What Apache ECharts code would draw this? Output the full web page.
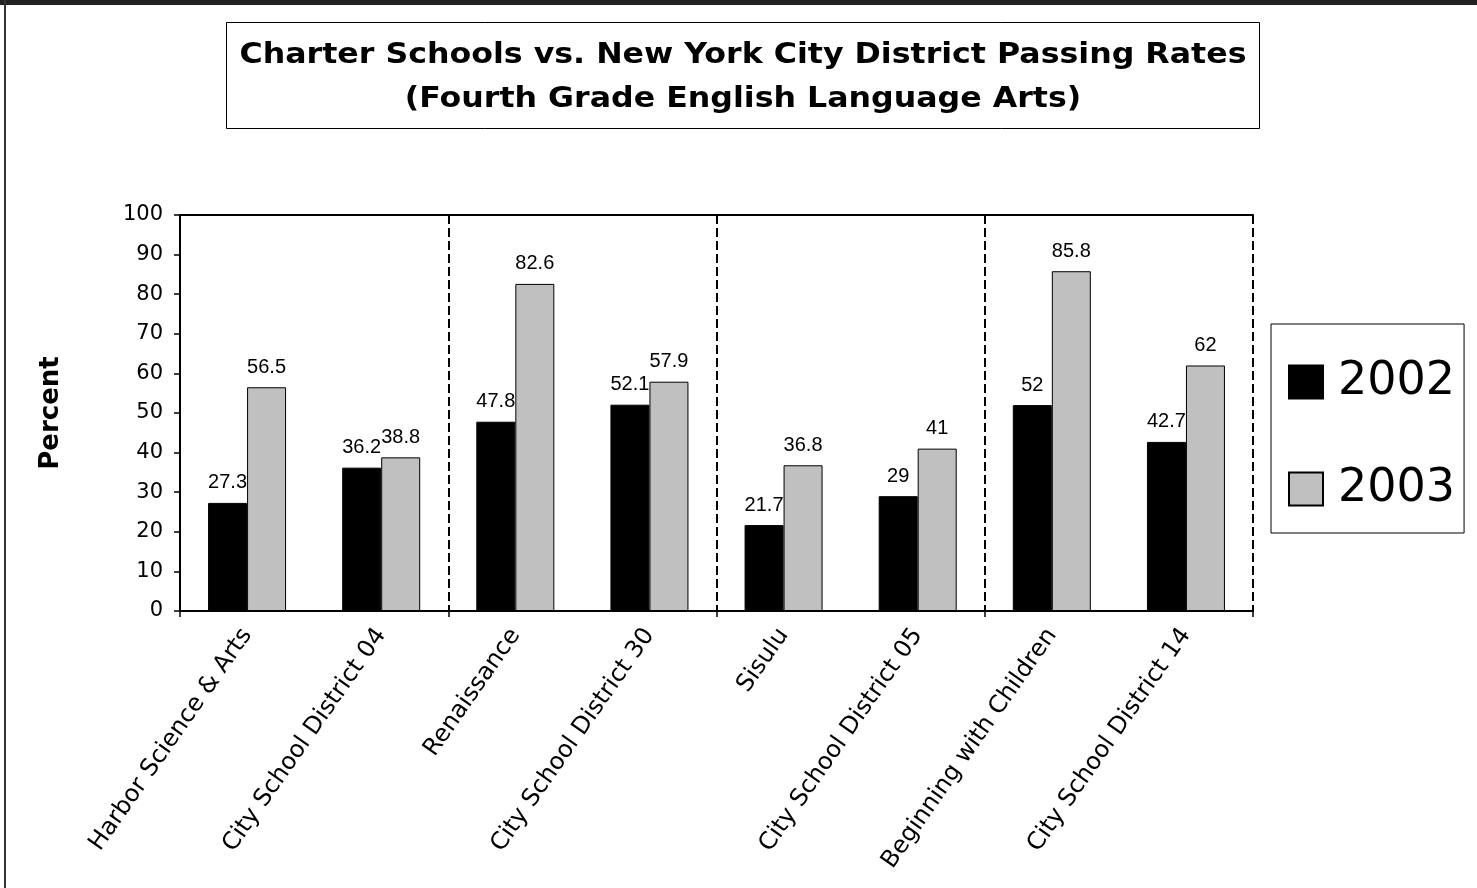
<!DOCTYPE html>
<html>
<head>
<meta charset="utf-8">
<script src="https://cdn.jsdelivr.net/npm/echarts@6/dist/echarts.min.js"></script>
<style>
html,body{margin:0;padding:0;background:#fff;}
#chart{width:1477px;height:888px;}
</style>
</head>
<body>
<div id="chart"></div>
<script>
const categories = ['Harbor Science & Arts','City School District 04','Renaissance','City School District 30','Sisulu','City School District 05','Beginning with Children','City School District 14'];
const values2002 = [27.3, 36.2, 47.8, 52.1, 21.7, 29, 52, 42.7];
const values2003 = [56.5, 38.8, 82.6, 57.9, 36.8, 41, 85.8, 62];
const seriesNames = ['2002', '2003'];
const titleLines = ['Charter Schools vs. New York City District Passing Rates', '(Fourth Grade English Language Arts)'];
const yAxisName = 'Percent';
const groupCount = 4;

const chart = echarts.init(document.getElementById('chart'), null, {renderer: 'canvas'});
const labelStyle = {show: true, position: 'top', distance: 10, color: '#000', fontFamily: 'Liberation Sans', fontSize: 20};
chart.setOption({
  backgroundColor: '#fff',
  animation: false,
  graphic: [
    {type: 'rect', shape: {x: 0, y: 0, width: 1477, height: 5}, style: {fill: '#222'}, silent: true},
    {type: 'rect', shape: {x: 4, y: 0, width: 2, height: 888}, style: {fill: '#333'}, silent: true},
    {type: 'rect', shape: {x: 226.5, y: 22.5, width: 1033, height: 106}, style: {fill: '#fff', stroke: '#000', lineWidth: 1}, silent: true},
    {type: 'text', x: 743, y: 78, scaleX: 1.13, style: {text: titleLines.join('\n'), textAlign: 'center', textVerticalAlign: 'middle', font: 'bold 28px "DejaVu Sans"', fill: '#000', lineHeight: 44}, silent: true}
  ],
  legend: {
    data: seriesNames, orient: 'vertical', left: 1271, top: 324,
    padding: [35, 9, 21, 17], itemWidth: 34, itemHeight: 33, itemGap: 61,
    borderColor: '#000', borderWidth: 1, icon: 'rect',
    textStyle: {fontSize: 46, fontFamily: 'DejaVu Sans', color: '#000', lineHeight: 46, padding: [0, 0, 0, 10]}
  },
  grid: {left: 180, top: 215, width: 1073, height: 396, containLabel: false},
  xAxis: [
    {
      type: 'category', data: categories, position: 'bottom',
      axisLine: {show: true, lineStyle: {color: '#000', width: 2}},
      axisTick: {show: false},
      axisLabel: {interval: 0, rotate: 55, margin: 20, color: '#000', fontFamily: 'DejaVu Sans', fontSize: 24},
      splitLine: {show: false}
    },
    {
      type: 'value', position: 'top', min: 0, max: groupCount, interval: 1,
      axisLine: {show: true, lineStyle: {color: '#000', width: 2}},
      axisTick: {show: false}, axisLabel: {show: false},
      splitLine: {show: true, lineStyle: {color: '#000', width: 2, type: [9, 4]}}
    },
    {
      type: 'value', position: 'bottom', min: 0, max: groupCount, interval: 1,
      axisLine: {show: true, lineStyle: {color: '#000', width: 2}},
      axisTick: {show: true, length: 6, lineStyle: {color: '#000', width: 1.5}},
      axisLabel: {show: false}, splitLine: {show: false}
    }
  ],
  yAxis: {
    type: 'value', min: 0, max: 100, interval: 10,
    name: yAxisName, nameLocation: 'middle', nameGap: 116, nameRotate: 90,
    nameTextStyle: {fontFamily: 'DejaVu Sans', fontWeight: 'bold', fontSize: 26, color: '#000'},
    axisLine: {show: true, lineStyle: {color: '#000', width: 2}},
    axisTick: {show: true, length: 6, lineStyle: {color: '#000', width: 1.5}},
    axisLabel: {color: '#000', fontFamily: 'DejaVu Sans', fontSize: 21, margin: 17},
    splitLine: {show: false}
  },
  series: [
    {name: seriesNames[0], type: 'bar', xAxisIndex: 0, data: values2002, barWidth: 39, barGap: '0%',
     itemStyle: {color: '#000', borderColor: '#000', borderWidth: 1}, label: labelStyle},
    {name: seriesNames[1], type: 'bar', xAxisIndex: 0, data: values2003, barWidth: 39, barGap: '0%',
     itemStyle: {color: '#c0c0c0', borderColor: '#000', borderWidth: 1}, label: labelStyle}
  ]
});
</script>
</body>
</html>
